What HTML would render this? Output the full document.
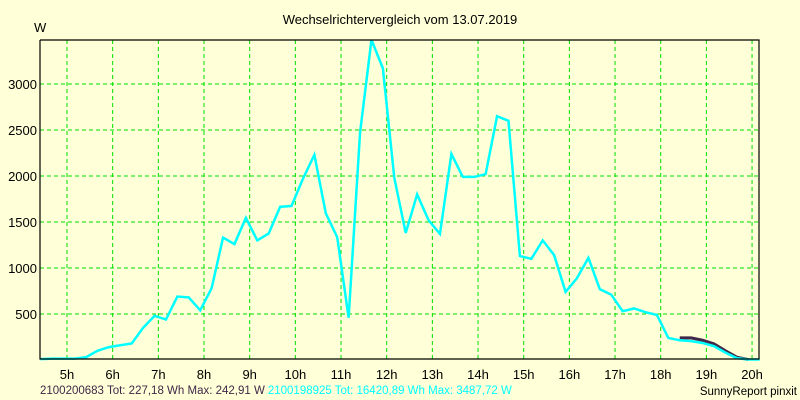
<!DOCTYPE html>
<html><head><meta charset="utf-8"><style>
html,body{margin:0;padding:0;background:#ffffd8;}
svg{display:block;font-family:"Liberation Sans",sans-serif;}
</style></head><body>
<svg width="800" height="400" viewBox="0 0 800 400">
<rect x="0" y="0" width="800" height="400" fill="#ffffd8"/>
<text x="400" y="24" font-size="13" text-anchor="middle" fill="#000">Wechselrichtervergleich vom 13.07.2019</text>
<text x="34" y="32" font-size="13" fill="#000">W</text>
<g id="grid"></g>
<g id="series"></g>
<g id="axes"></g>
<text x="40" y="394" font-size="11.5"><tspan fill="#402848">2100200683 Tot: 227,18 Wh Max: 242,91 W</tspan><tspan fill="#00ffff" dx="3">2100198925 Tot: 16420,89 Wh Max: 3487,72 W</tspan></text>
<text x="797" y="395" font-size="11.5" text-anchor="end" fill="#000">SunnyReport pinxit</text>
</svg>
<script>
const hourTicks = [5,6,7,8,9,10,11,12,13,14,15,16,17,18,19,20];
const yTicks = [500,1000,1500,2000,2500,3000];
const times2 = ["04:25","04:40","05:10","05:25","05:40","05:55","06:10","06:25","06:40","06:55","07:10","07:25","07:40","07:55","08:10","08:25","08:40","08:55","09:10","09:25","09:40","09:55","10:10","10:25","10:40","10:55","11:10","11:25","11:40","11:55","12:10","12:25","12:40","12:55","13:10","13:25","13:40","13:55","14:10","14:25","14:40","14:55","15:10","15:25","15:40","15:55","16:10","16:25","16:40","16:55","17:10","17:25","17:40","17:55","18:10","18:25","18:40","18:55","19:10","19:25","19:40","19:55","20:10"];
const values2 = [10,15,15,30,100,140,160,180,350,480,440,690,680,540,780,1330,1260,1545,1300,1375,1665,1675,1970,2230,1595,1335,460,2470,3480,3170,1980,1380,1800,1520,1370,2240,1990,1990,2020,2650,2600,1130,1100,1300,1140,740,890,1110,770,710,530,560,520,490,240,215,205,185,150,80,20,5,5];
const times1 = ["18:25","18:40","18:55","19:10","19:25","19:40","19:55"];
const values1 = [240,240,215,175,100,30,5];

const NS="http://www.w3.org/2000/svg";
const L=40,R=759,T=40,B=359;
function xScale(h){return 67+(h-5)*45.67;}
function yScale(v){return 360-v*0.092;}
function toH(s){const p=s.split(":");return +p[0]+ +p[1]/60;}
function mk(tag,attrs,parent){const e=document.createElementNS(NS,tag);for(const k in attrs)e.setAttribute(k,attrs[k]);parent.appendChild(e);return e;}

const grid=document.getElementById('grid');
const axes=document.getElementById('axes');
hourTicks.forEach(h=>{
  const x=xScale(h);
  const l=mk('line',{x1:x,x2:x,y1:T,y2:B,stroke:'#00e000','stroke-dasharray':'4,3','stroke-width':1},grid);
  
  
  const t=mk('text',{x:x,y:379,'font-size':13,'text-anchor':'middle',fill:'#000'},axes);
  t.textContent=h+'h';
  
  
});
yTicks.forEach(v=>{
  const y=yScale(v);
  const l=mk('line',{x1:L,x2:R,y1:y,y2:y,stroke:'#00e000','stroke-dasharray':'4,3','stroke-width':1},grid);
  
  
  const t=mk('text',{x:37,y:y+5,'font-size':13,'text-anchor':'end',fill:'#000'},axes);
  t.textContent=v;
  
  
});
const frame=mk('polyline',{points:`${L},${T} ${L},${B} ${R},${B} ${R},${T} ${L},${T}`,fill:'none',stroke:'#000','stroke-width':1.2},axes);



const series=document.getElementById('series');
const p1=mk('polyline',{points:times1.map((t,i)=>xScale(toH(t))+','+yScale(values1[i])).join(' '),fill:'none',stroke:'#402848','stroke-width':3},series);


const p2=mk('polyline',{points:times2.map((t,i)=>Math.max(L,xScale(toH(t)))+','+yScale(values2[i])).join(' '),fill:'none',stroke:'#00ffff','stroke-width':2.5},series);


</script>
</body></html>
